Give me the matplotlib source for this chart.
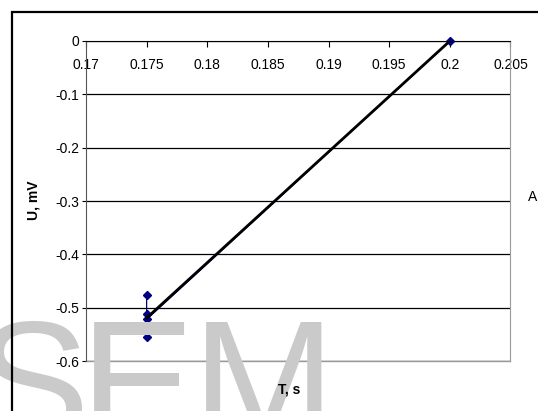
import matplotlib
matplotlib.use("Agg")
import matplotlib.pyplot as plt
from matplotlib.ticker import FuncFormatter
from matplotlib.patches import Rectangle
import numpy as np

############### Data ###############
T = [0.175, 0.175, 0.175, 0.175, 0.175, 0.2]          # period, s
U = [-0.476, -0.511, -0.555, -0.533, -0.522, 0.0]      # voltage, mV
xticks = [0.17, 0.175, 0.18, 0.185, 0.19, 0.195, 0.2, 0.205]
yticks = [0, -0.1, -0.2, -0.3, -0.4, -0.5, -0.6]

plt.rcParams['font.family'] = ['Liberation Sans', 'DejaVu Sans']

W, H = 538, 411
fig = plt.figure(figsize=(W / 100, H / 100), dpi=100)

# watermark behind everything, one letter at a time
for ch, cx in zip("SEM", [32, 137, 264]):
    fig.text(cx / W, 1 - 441 / H, ch, fontsize=124, color="#cacaca",
             ha="center", va="baseline", zorder=0)

# outer frame (runs off right / bottom edge)
fig.patches.append(Rectangle((12 / W, -0.1), 1.2, 1.1 - 12 / H,
                             transform=fig.transFigure, fill=False,
                             edgecolor="black", linewidth=1.6, zorder=1))

ax = fig.add_axes([86 / W, 1 - 361 / H, (510.5 - 86) / W, (361 - 41) / H])
ax.patch.set_alpha(0)

# trend line (least squares)
k, b = np.polyfit(T, U, 1)
xs = np.array([min(T), max(T)])
ax.plot(xs, k * xs + b, color="black", linewidth=2, zorder=4)

# measured series
ax.plot(T, U, color="#000080", linewidth=0.9, marker="D", markersize=4.5,
        zorder=3, clip_on=False)

ax.set_xlim(0.17, 0.205)
ax.set_ylim(-0.6, 0)
ax.set_xticks(xticks)
ax.set_yticks(yticks)
fmt = FuncFormatter(lambda v, p: "%g" % round(v, 4))
ax.xaxis.set_major_formatter(fmt)
ax.yaxis.set_major_formatter(fmt)
ax.yaxis.grid(True, color="black", linewidth=0.9)
ax.set_axisbelow(True)

ax.spines['bottom'].set_position(('data', 0))
ax.spines['bottom'].set_color("black")
ax.spines['left'].set_color("#555555")
ax.spines['right'].set_color("#999999")
ax.spines['top'].set_visible(False)
# gray lower border of plot area
ax.plot([0, 1], [0, 0], transform=ax.transAxes, color="#999999",
        linewidth=1, clip_on=False)

ax.tick_params(axis='x', direction='out', length=4, pad=8, labelsize=10,
               colors="black")
ax.tick_params(axis='y', direction='out', length=3, pad=2, labelsize=10)

fig.text(33 / W, 1 - 200 / H, "U, mV", rotation=90, fontsize=10,
         fontweight="bold", ha="center", va="center")
fig.text(289 / W, 1 - 389 / H, "T, s", fontsize=10, fontweight="bold",
         ha="center", va="center")
fig.text(528 / W, 1 - 197 / H, "A", fontsize=10, ha="left", va="center")

fig.savefig("out.png", dpi=100)
